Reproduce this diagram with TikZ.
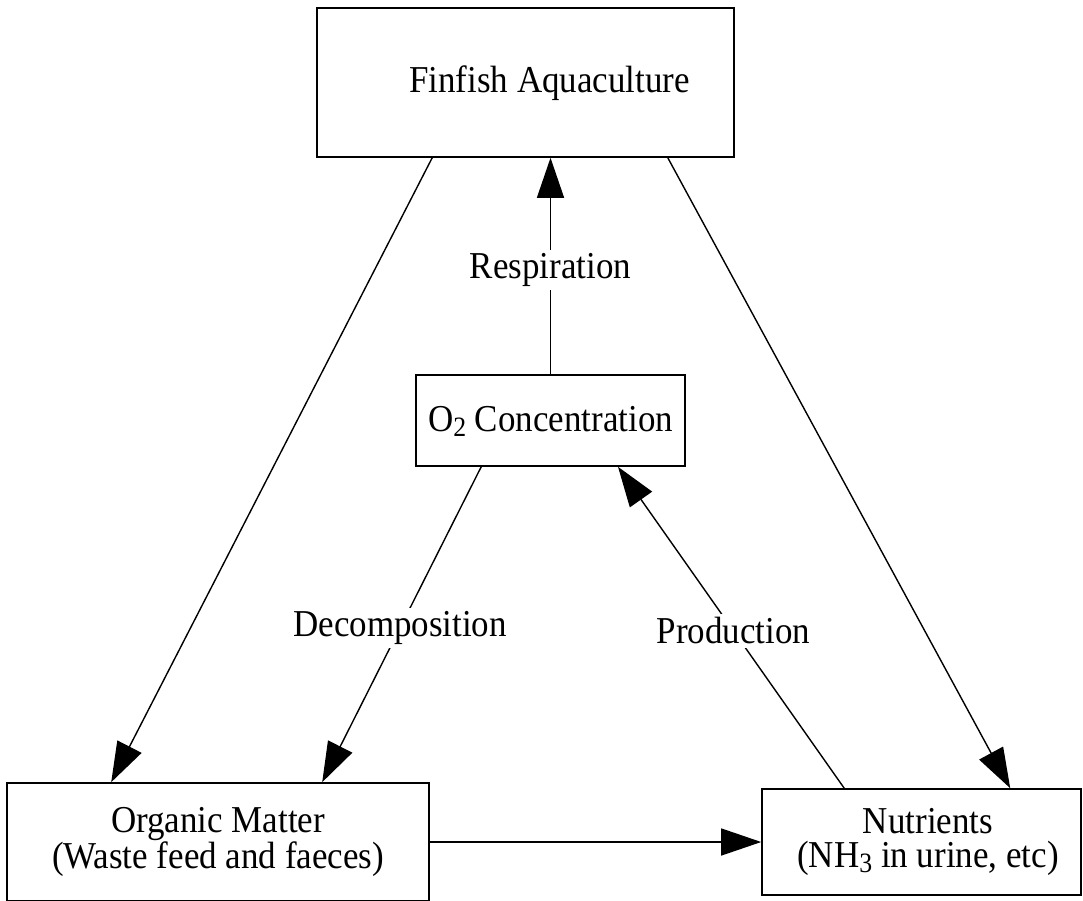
\documentclass[tikz,border=0pt]{standalone}
\usepackage{fontspec}
\setmainfont{Liberation Serif}[FakeStretch=0.92]
\usetikzlibrary{arrows.meta,calc}
\newcommand{\mainfnt}{\fontsize{38pt}{34pt}\selectfont}
\newcommand{\mysub}[1]{\raisebox{-5pt}{\fontsize{28pt}{28pt}\selectfont #1}}
\begin{document}
\begin{tikzpicture}[x=1pt,y=-1pt,
  box/.style={draw, line width=1.6pt, rectangle, inner sep=0pt, align=center, font=\mainfnt},
  onel/.style={text height=27pt, text depth=6pt},
  lab/.style={fill=white, inner sep=3.5pt, font=\mainfnt},
  conn/.style={line width=1.4pt, -{Triangle[length=40pt,width=27pt]}}]
\fill[white] (0,0) rectangle (1083,901);
\useasboundingbox (0,0) rectangle (1083,901);

\node[box, onel, minimum width=417pt, minimum height=149pt] (fin) at (525.5,82.5) {\hspace*{48pt}Finfish Aquaculture};
\node[box, onel, minimum width=269pt, minimum height=91pt] (oxy) at (550.5,420.5) {O\mysub{2} Concentration};
\node[box, minimum width=422pt, minimum height=118pt] (org) at (218,842) {Organic Matter\\(Waste feed and faeces)};
\node[box, minimum width=319pt, minimum height=106pt] (nut) at (921.5,842) {\hspace*{13pt}Nutrients\\\hspace*{13pt}(NH\mysub{3} in urine, etc)};

\draw[conn] ([xshift=116pt]fin.south west) -- ([xshift=105pt]org.north west);
\draw[conn] ([xshift=-67pt]fin.south east) -- ([xshift=249pt]nut.north west);
\draw[conn] (oxy.north) -- node[lab, pos=0.48]{Respiration} (oxy.north |- fin.south);
\draw[conn] ([xshift=66pt]oxy.south west) -- node[lab, pos=0.51]{Decomposition} ([xshift=316pt]org.north west);
\draw[conn] ([xshift=83pt]nut.north west) -- node[lab, pos=0.49]{Production} ([xshift=67.5pt]oxy.south);
\draw[conn] (org.east) -- (org.east -| nut.west);
\end{tikzpicture}
\end{document}
